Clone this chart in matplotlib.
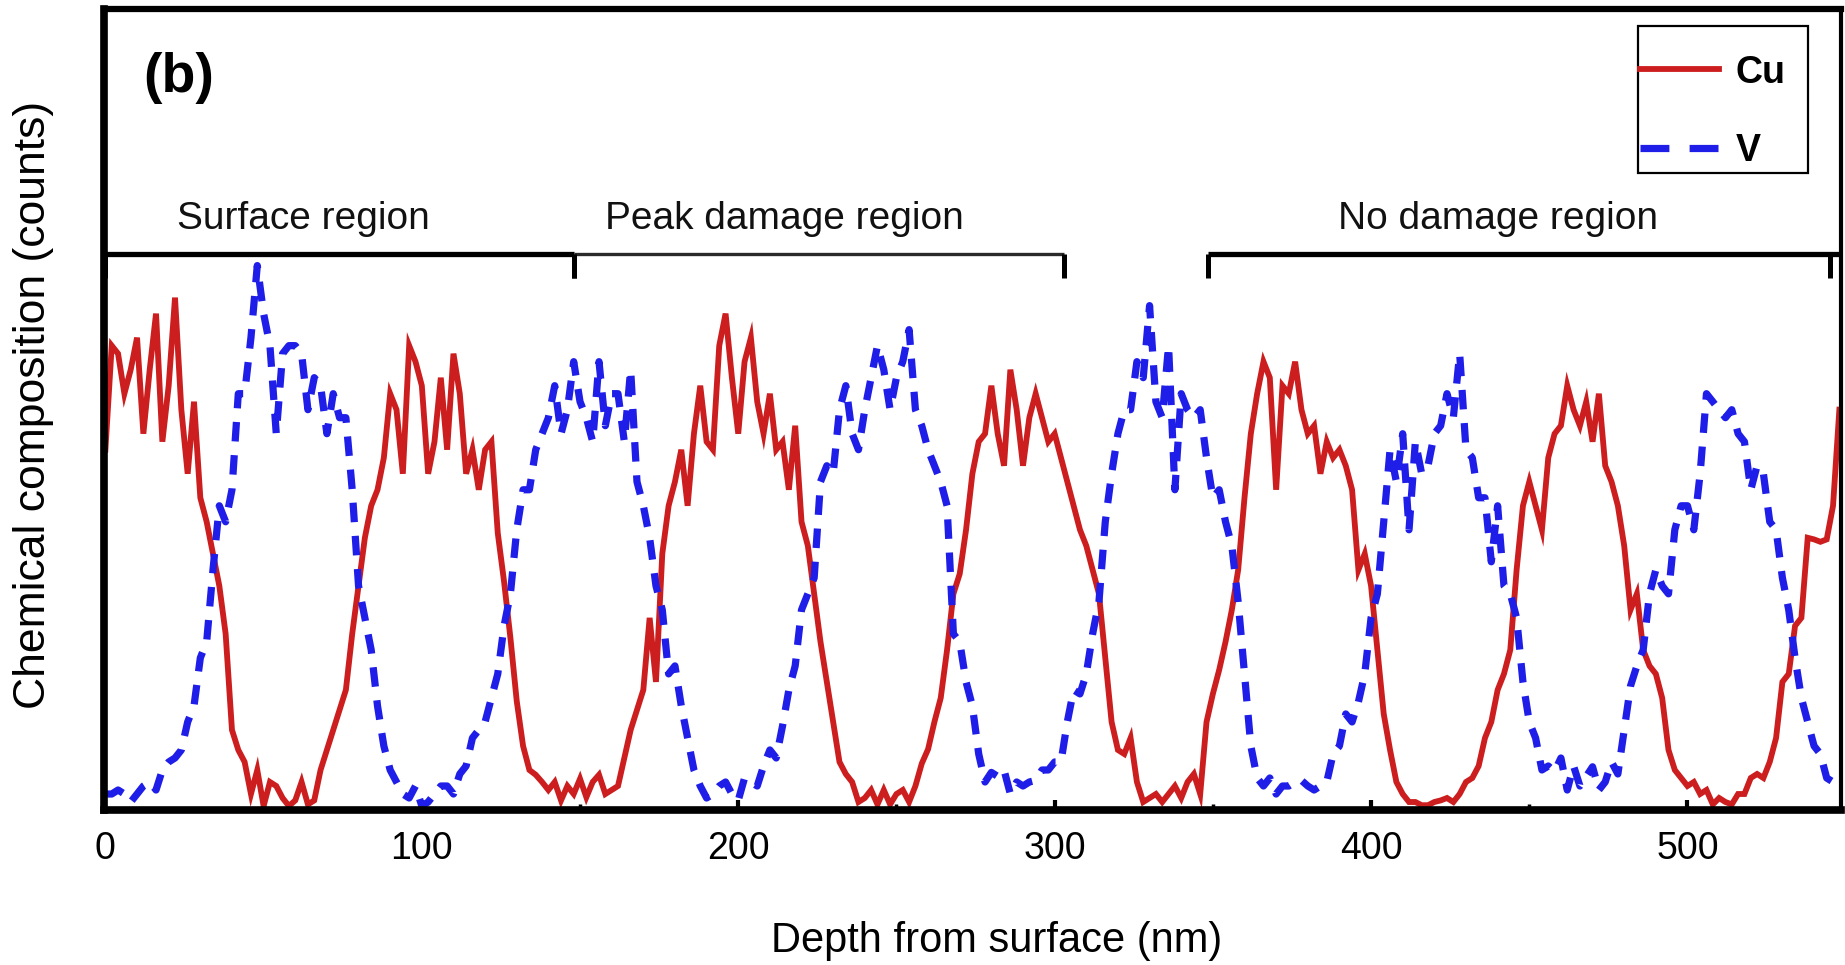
import numpy as np
import matplotlib
matplotlib.use("Agg")
import matplotlib.pyplot as plt
from matplotlib.ticker import MultipleLocator
from matplotlib.lines import Line2D
from matplotlib.patches import Rectangle

plt.rcParams['font.family'] = ['Liberation Sans', 'DejaVu Sans']

# ---------------- data (2 nm sampling) ----------------
depth_step_nm = 2.0

cu_counts = [
    45, 58, 57, 52, 55, 59, 47, 55, 62, 46,
    53, 64, 50, 42, 51, 39, 36, 32, 28, 22,
    10, 7.5, 6, 2, 5, 0.5, 3.5, 3, 1.5, 0.5,
    1.2, 3.5, 0.7, 1.2, 5, 7.5, 10, 12.5, 15, 22,
    28, 34, 38, 40, 44, 52, 50, 42, 58, 56,
    53, 42, 46, 54, 45, 57, 52, 42, 45, 40,
    45, 46, 34.6, 28.5, 21.5, 13.6, 8, 5, 4.4, 3.5,
    2.5, 3.5, 1.2, 3, 2, 3.9, 1.6, 3.5, 4.4, 2,
    2.5, 3, 6.5, 10, 12.5, 15, 24, 16, 32, 38,
    41, 45, 38, 47, 53, 46, 45, 58, 62, 54,
    47, 56, 59, 51, 47, 52, 45, 46, 40, 48,
    36, 33, 27, 21, 16, 11, 6, 4.5, 3.5, 1,
    1.5, 2.5, 0.7, 2.5, 0.7, 2, 2.5, 1, 3, 5.8,
    7.6, 11, 14, 20, 27, 29.5, 35, 42, 46, 47,
    53, 47, 43, 55, 50, 43, 49, 52, 49, 46,
    47, 44, 41, 38, 35, 33, 30, 27, 19, 11,
    7.5, 7, 9, 3.5, 1, 1.5, 2, 1, 2, 3,
    1.5, 3.5, 4.5, 2, 11, 14.5, 17.5, 21, 25, 30,
    39, 47, 52, 56, 54, 40, 53, 52, 56, 50,
    47, 48, 42, 46, 44, 45, 43, 40, 30, 32,
    28, 20, 12, 7.5, 3.5, 2, 1, 1, 0.6, 0.6,
    1, 1.2, 1.5, 1, 2, 3.5, 4, 5.5, 9, 11,
    15, 17, 20, 30, 38, 41, 38, 35, 44, 47,
    48, 53, 50, 48, 51, 46, 52, 43, 41, 38,
    33, 25, 27, 20, 18, 17, 14, 7.5, 5, 4,
    3, 3.5, 2, 2.5, 0.7, 1.5, 1, 0.7, 2, 2,
    4, 4.5, 4, 6, 9, 16, 17, 23, 24, 34,
    33.8, 33.5, 33.8, 38, 50,
]

v_counts = [
    2, 2, 2.5, 2, 1, 2, 3, 3.5, 2.5, 5,
    6, 6.5, 7.5, 11, 13, 19, 21, 30, 38, 36,
    40, 52, 52, 59, 68, 62, 58, 47, 57, 58,
    58, 57, 50, 54, 53, 47, 52, 49, 49, 40,
    28, 24, 20, 13, 8, 5, 3.5, 2, 1.5, 3,
    0.5, 1, 2, 3, 3, 2, 4.5, 5.5, 9, 10,
    11, 14, 17, 23, 27, 35, 40, 40, 45, 47,
    49, 53, 47, 50, 56, 51, 49, 46, 56, 48,
    52, 52, 46, 55, 41, 38, 34, 28, 25, 17,
    18, 13, 9, 5, 3, 1.5, 2, 3, 3.5, 2,
    1.2, 4, 3.5, 3, 5.5, 7.5, 6.5, 10.5, 15, 18,
    25, 27, 29, 41, 43, 42, 50, 53, 47, 45,
    50, 54, 58, 55, 50, 54, 56, 60, 50, 48,
    45, 43, 41, 38, 22, 21, 16, 13, 7, 3.5,
    4.7, 4.2, 5, 2, 3.5, 3, 3.5, 3.7, 5, 5,
    6, 6, 11, 15, 14.5, 17, 22, 26, 36, 42,
    47, 50, 50, 56, 54, 63, 51, 49, 58, 40,
    52, 50, 49, 50, 44, 39, 40, 36, 33, 26,
    17, 8, 4, 3, 4, 2, 3, 3, 3.5, 3.7,
    3, 2.5, 3, 3.5, 7, 8, 12, 11, 13.5, 17,
    24, 27, 36, 45, 41, 47, 35, 46, 42, 43,
    47, 48, 52, 49, 57, 45, 44, 39, 39, 31,
    38, 28, 27, 24, 16, 11, 9, 5, 5.5, 4.8,
    6.5, 2.5, 5.5, 3, 4.2, 5.4, 2.5, 3.5, 6, 4.5,
    10, 15.5, 18, 20, 27, 30, 28, 27, 35, 38,
    38, 35, 42, 52, 51, 50, 49, 50, 47, 46,
    40, 43, 42, 36, 35, 29, 25, 19, 14, 11,
    8, 7, 4, 3.5, 3,
]

series_names = ["Cu", "V"]
x_tick_values = [0, 100, 200, 300, 400, 500]

region_names = ["Surface region", "Peak damage region", "No damage region"]
region_start_nm = [0, 148, 348.5]
region_end_nm = [148, 303, 545]

panel_label = "(b)"
x_label = "Depth from surface (nm)"
y_label = "Chemical composition (counts)"

# ---------------- layout / style ----------------
RED = "#CC1E1E"
BLUE = "#1E1EE8"

depth_cu = np.arange(len(cu_counts)) * depth_step_nm
depth_v = np.arange(len(v_counts)) * depth_step_nm

fig = plt.figure(figsize=(18.45, 9.65), dpi=100)
ax = fig.add_axes([0.0561, 0.1606, 0.9417, 0.8297])

ax.plot(depth_cu, cu_counts, color=RED, lw=4.2, solid_joinstyle='miter')
ax.plot(depth_v, v_counts, color=BLUE, lw=5.2, dashes=(2.7, 1.9))

ax.set_xlim(-0.6, 548.5)
ax.set_ylim(0, 100)

# spines
for side, w in (("left", 5.5), ("bottom", 5.5), ("top", 4.5), ("right", 3.0)):
    ax.spines[side].set_linewidth(w)
    ax.spines[side].set_color("black")

ax.set_xticks(x_tick_values)
ax.set_xticklabels([str(v) for v in x_tick_values])
ax.xaxis.set_minor_locator(MultipleLocator(50))
ax.tick_params(axis='x', which='major', direction='in', length=7, width=3,
               pad=15, labelsize=27, top=False)
ax.tick_params(axis='x', which='minor', direction='in', length=4, width=2.5,
               top=False)
ax.set_yticks([])

ax.set_xlabel(x_label, fontsize=30, va='center')
ax.xaxis.set_label_coords(0.514, -0.1636)
ax.set_ylabel(y_label, fontsize=32, va='center', ha='center')
ax.yaxis.set_label_coords(-0.0403, 0.506)

# region brackets
bracket_y = 69.5
tick_y = 66.4
bracket_lw = [3.8, 2.4, 3.8]
bracket_col = ["black", "#2a2a2a", "black"]
label_x = [62.5, 214.5, 440]
for name, x0, x1, lx, lw, col in zip(region_names, region_start_nm, region_end_nm,
                                     label_x, bracket_lw, bracket_col):
    left = x0 if x0 > 0 else -0.6
    right = x1 if x1 < 540 else 548.5
    ax.plot([left, right], [bracket_y, bracket_y], color=col, lw=lw,
            solid_capstyle='butt', clip_on=False, zorder=3)
    for xt in (x0, x1):
        ax.plot([xt, xt], [bracket_y, tick_y], color="black", lw=3.6,
                solid_capstyle='butt', clip_on=False, zorder=3)
    ax.text(lx, 72.6, name, fontsize=28, ha='center', va='baseline', color="#111111")

ax.text(23.3, 91.4, panel_label, fontsize=40, fontweight='bold', ha='center',
        va='center')

# legend: frame drawn separately so that the entries sit where they do in the figure
handles = [
    Line2D([], [], color=RED, lw=4.2),
    Line2D([], [], color=BLUE, lw=5.2, dashes=(4.0, 2.8)),
]
leg = ax.legend(handles, series_names, loc='upper left',
                bbox_to_anchor=(0.8844, 0.9435), borderaxespad=0, borderpad=0,
                prop={'weight': 'bold', 'size': 27}, handlelength=2.1,
                handletextpad=0.45, labelspacing=1.13, frameon=False)
ax.add_patch(Rectangle((0.8832, 0.7957), 0.0978, 0.1836, transform=ax.transAxes,
                       fill=True, facecolor='white', edgecolor='black', lw=1.6,
                       zorder=4))
leg.set_zorder(5)

fig.savefig("out.png", dpi=100)
